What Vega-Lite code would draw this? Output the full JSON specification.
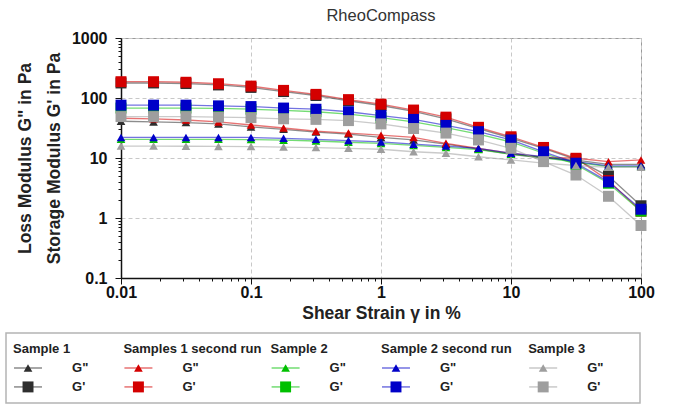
{
  "$schema": "https://vega.github.io/schema/vega-lite/v6.json",
  "background": "white",
  "padding": {"left": 5, "top": 7, "right": 0, "bottom": 0},
  "config": {
    "font": "Liberation Sans",
    "view": {"stroke": null}
  },
  "spacing": 10,
  "resolve": {"scale": {"x": "independent", "y": "independent"}},
  "datasets": {
    "rheo": [
      {"sample": "Sample 1", "modulus": "G\"", "strain": 0.01, "value": 41},
      {"sample": "Sample 1", "modulus": "G\"", "strain": 0.0178, "value": 40},
      {"sample": "Sample 1", "modulus": "G\"", "strain": 0.0316, "value": 39},
      {"sample": "Sample 1", "modulus": "G\"", "strain": 0.0562, "value": 37},
      {"sample": "Sample 1", "modulus": "G\"", "strain": 0.1, "value": 33},
      {"sample": "Sample 1", "modulus": "G\"", "strain": 0.178, "value": 30},
      {"sample": "Sample 1", "modulus": "G\"", "strain": 0.316, "value": 27},
      {"sample": "Sample 1", "modulus": "G\"", "strain": 0.562, "value": 25},
      {"sample": "Sample 1", "modulus": "G\"", "strain": 1, "value": 22},
      {"sample": "Sample 1", "modulus": "G\"", "strain": 1.78, "value": 20},
      {"sample": "Sample 1", "modulus": "G\"", "strain": 3.16, "value": 17},
      {"sample": "Sample 1", "modulus": "G\"", "strain": 5.62, "value": 14},
      {"sample": "Sample 1", "modulus": "G\"", "strain": 10, "value": 11.5},
      {"sample": "Sample 1", "modulus": "G\"", "strain": 17.8, "value": 10},
      {"sample": "Sample 1", "modulus": "G\"", "strain": 31.6, "value": 9.2},
      {"sample": "Sample 1", "modulus": "G\"", "strain": 56.2, "value": 7.8},
      {"sample": "Sample 1", "modulus": "G\"", "strain": 100, "value": 7.8},
      {"sample": "Sample 1", "modulus": "G'", "strain": 0.01, "value": 178},
      {"sample": "Sample 1", "modulus": "G'", "strain": 0.0178, "value": 178},
      {"sample": "Sample 1", "modulus": "G'", "strain": 0.0316, "value": 174},
      {"sample": "Sample 1", "modulus": "G'", "strain": 0.0562, "value": 165},
      {"sample": "Sample 1", "modulus": "G'", "strain": 0.1, "value": 150},
      {"sample": "Sample 1", "modulus": "G'", "strain": 0.178, "value": 128},
      {"sample": "Sample 1", "modulus": "G'", "strain": 0.316, "value": 110},
      {"sample": "Sample 1", "modulus": "G'", "strain": 0.562, "value": 90},
      {"sample": "Sample 1", "modulus": "G'", "strain": 1, "value": 75},
      {"sample": "Sample 1", "modulus": "G'", "strain": 1.78, "value": 60},
      {"sample": "Sample 1", "modulus": "G'", "strain": 3.16, "value": 45},
      {"sample": "Sample 1", "modulus": "G'", "strain": 5.62, "value": 31},
      {"sample": "Sample 1", "modulus": "G'", "strain": 10, "value": 21.5},
      {"sample": "Sample 1", "modulus": "G'", "strain": 17.8, "value": 14.5},
      {"sample": "Sample 1", "modulus": "G'", "strain": 31.6, "value": 9.5},
      {"sample": "Sample 1", "modulus": "G'", "strain": 56.2, "value": 5.0},
      {"sample": "Sample 1", "modulus": "G'", "strain": 100, "value": 1.6},
      {"sample": "Samples 1 second run", "modulus": "G\"", "strain": 0.01, "value": 46},
      {"sample": "Samples 1 second run", "modulus": "G\"", "strain": 0.0178, "value": 45},
      {"sample": "Samples 1 second run", "modulus": "G\"", "strain": 0.0316, "value": 43},
      {"sample": "Samples 1 second run", "modulus": "G\"", "strain": 0.0562, "value": 40},
      {"sample": "Samples 1 second run", "modulus": "G\"", "strain": 0.1, "value": 35.5},
      {"sample": "Samples 1 second run", "modulus": "G\"", "strain": 0.178, "value": 31.6},
      {"sample": "Samples 1 second run", "modulus": "G\"", "strain": 0.316, "value": 28},
      {"sample": "Samples 1 second run", "modulus": "G\"", "strain": 0.562, "value": 26},
      {"sample": "Samples 1 second run", "modulus": "G\"", "strain": 1, "value": 24},
      {"sample": "Samples 1 second run", "modulus": "G\"", "strain": 1.78, "value": 22},
      {"sample": "Samples 1 second run", "modulus": "G\"", "strain": 3.16, "value": 17.6},
      {"sample": "Samples 1 second run", "modulus": "G\"", "strain": 5.62, "value": 14.5},
      {"sample": "Samples 1 second run", "modulus": "G\"", "strain": 10, "value": 12},
      {"sample": "Samples 1 second run", "modulus": "G\"", "strain": 17.8, "value": 10.3},
      {"sample": "Samples 1 second run", "modulus": "G\"", "strain": 31.6, "value": 9.9},
      {"sample": "Samples 1 second run", "modulus": "G\"", "strain": 56.2, "value": 8.7},
      {"sample": "Samples 1 second run", "modulus": "G\"", "strain": 100, "value": 9.3},
      {"sample": "Samples 1 second run", "modulus": "G'", "strain": 0.01, "value": 187},
      {"sample": "Samples 1 second run", "modulus": "G'", "strain": 0.0178, "value": 187},
      {"sample": "Samples 1 second run", "modulus": "G'", "strain": 0.0316, "value": 183},
      {"sample": "Samples 1 second run", "modulus": "G'", "strain": 0.0562, "value": 173},
      {"sample": "Samples 1 second run", "modulus": "G'", "strain": 0.1, "value": 158},
      {"sample": "Samples 1 second run", "modulus": "G'", "strain": 0.178, "value": 134},
      {"sample": "Samples 1 second run", "modulus": "G'", "strain": 0.316, "value": 115},
      {"sample": "Samples 1 second run", "modulus": "G'", "strain": 0.562, "value": 94},
      {"sample": "Samples 1 second run", "modulus": "G'", "strain": 1, "value": 79},
      {"sample": "Samples 1 second run", "modulus": "G'", "strain": 1.78, "value": 63},
      {"sample": "Samples 1 second run", "modulus": "G'", "strain": 3.16, "value": 48},
      {"sample": "Samples 1 second run", "modulus": "G'", "strain": 5.62, "value": 32.5},
      {"sample": "Samples 1 second run", "modulus": "G'", "strain": 10, "value": 22.6},
      {"sample": "Samples 1 second run", "modulus": "G'", "strain": 17.8, "value": 15},
      {"sample": "Samples 1 second run", "modulus": "G'", "strain": 31.6, "value": 9.9},
      {"sample": "Samples 1 second run", "modulus": "G'", "strain": 56.2, "value": 4.2},
      {"sample": "Samples 1 second run", "modulus": "G'", "strain": 100, "value": 1.3},
      {"sample": "Sample 2", "modulus": "G\"", "strain": 0.01, "value": 20.5},
      {"sample": "Sample 2", "modulus": "G\"", "strain": 0.0178, "value": 20.5},
      {"sample": "Sample 2", "modulus": "G\"", "strain": 0.0316, "value": 20.5},
      {"sample": "Sample 2", "modulus": "G\"", "strain": 0.0562, "value": 20.5},
      {"sample": "Sample 2", "modulus": "G\"", "strain": 0.1, "value": 20.3},
      {"sample": "Sample 2", "modulus": "G\"", "strain": 0.178, "value": 19.8},
      {"sample": "Sample 2", "modulus": "G\"", "strain": 0.316, "value": 19.2},
      {"sample": "Sample 2", "modulus": "G\"", "strain": 0.562, "value": 18.3},
      {"sample": "Sample 2", "modulus": "G\"", "strain": 1, "value": 17.5},
      {"sample": "Sample 2", "modulus": "G\"", "strain": 1.78, "value": 16.2},
      {"sample": "Sample 2", "modulus": "G\"", "strain": 3.16, "value": 15},
      {"sample": "Sample 2", "modulus": "G\"", "strain": 5.62, "value": 13.8},
      {"sample": "Sample 2", "modulus": "G\"", "strain": 10, "value": 11.6},
      {"sample": "Sample 2", "modulus": "G\"", "strain": 17.8, "value": 10.2},
      {"sample": "Sample 2", "modulus": "G\"", "strain": 31.6, "value": 8.5},
      {"sample": "Sample 2", "modulus": "G\"", "strain": 56.2, "value": 7.2},
      {"sample": "Sample 2", "modulus": "G\"", "strain": 100, "value": 7.2},
      {"sample": "Sample 2", "modulus": "G'", "strain": 0.01, "value": 68},
      {"sample": "Sample 2", "modulus": "G'", "strain": 0.0178, "value": 68},
      {"sample": "Sample 2", "modulus": "G'", "strain": 0.0316, "value": 68},
      {"sample": "Sample 2", "modulus": "G'", "strain": 0.0562, "value": 67},
      {"sample": "Sample 2", "modulus": "G'", "strain": 0.1, "value": 65},
      {"sample": "Sample 2", "modulus": "G'", "strain": 0.178, "value": 62},
      {"sample": "Sample 2", "modulus": "G'", "strain": 0.316, "value": 59},
      {"sample": "Sample 2", "modulus": "G'", "strain": 0.562, "value": 54},
      {"sample": "Sample 2", "modulus": "G'", "strain": 1, "value": 47},
      {"sample": "Sample 2", "modulus": "G'", "strain": 1.78, "value": 40},
      {"sample": "Sample 2", "modulus": "G'", "strain": 3.16, "value": 32},
      {"sample": "Sample 2", "modulus": "G'", "strain": 5.62, "value": 25},
      {"sample": "Sample 2", "modulus": "G'", "strain": 10, "value": 18.5},
      {"sample": "Sample 2", "modulus": "G'", "strain": 17.8, "value": 12},
      {"sample": "Sample 2", "modulus": "G'", "strain": 31.6, "value": 7.8},
      {"sample": "Sample 2", "modulus": "G'", "strain": 56.2, "value": 3.8},
      {"sample": "Sample 2", "modulus": "G'", "strain": 100, "value": 1.3},
      {"sample": "Sample 2 second run", "modulus": "G\"", "strain": 0.01, "value": 22},
      {"sample": "Sample 2 second run", "modulus": "G\"", "strain": 0.0178, "value": 22},
      {"sample": "Sample 2 second run", "modulus": "G\"", "strain": 0.0316, "value": 22},
      {"sample": "Sample 2 second run", "modulus": "G\"", "strain": 0.0562, "value": 22},
      {"sample": "Sample 2 second run", "modulus": "G\"", "strain": 0.1, "value": 22},
      {"sample": "Sample 2 second run", "modulus": "G\"", "strain": 0.178, "value": 21.3},
      {"sample": "Sample 2 second run", "modulus": "G\"", "strain": 0.316, "value": 20.5},
      {"sample": "Sample 2 second run", "modulus": "G\"", "strain": 0.562, "value": 19.5},
      {"sample": "Sample 2 second run", "modulus": "G\"", "strain": 1, "value": 18.5},
      {"sample": "Sample 2 second run", "modulus": "G\"", "strain": 1.78, "value": 17},
      {"sample": "Sample 2 second run", "modulus": "G\"", "strain": 3.16, "value": 15.8},
      {"sample": "Sample 2 second run", "modulus": "G\"", "strain": 5.62, "value": 14.5},
      {"sample": "Sample 2 second run", "modulus": "G\"", "strain": 10, "value": 12},
      {"sample": "Sample 2 second run", "modulus": "G\"", "strain": 17.8, "value": 10.5},
      {"sample": "Sample 2 second run", "modulus": "G\"", "strain": 31.6, "value": 8.7},
      {"sample": "Sample 2 second run", "modulus": "G\"", "strain": 56.2, "value": 7.4},
      {"sample": "Sample 2 second run", "modulus": "G\"", "strain": 100, "value": 7.4},
      {"sample": "Sample 2 second run", "modulus": "G'", "strain": 0.01, "value": 76},
      {"sample": "Sample 2 second run", "modulus": "G'", "strain": 0.0178, "value": 76},
      {"sample": "Sample 2 second run", "modulus": "G'", "strain": 0.0316, "value": 76},
      {"sample": "Sample 2 second run", "modulus": "G'", "strain": 0.0562, "value": 74},
      {"sample": "Sample 2 second run", "modulus": "G'", "strain": 0.1, "value": 72},
      {"sample": "Sample 2 second run", "modulus": "G'", "strain": 0.178, "value": 68},
      {"sample": "Sample 2 second run", "modulus": "G'", "strain": 0.316, "value": 65},
      {"sample": "Sample 2 second run", "modulus": "G'", "strain": 0.562, "value": 59},
      {"sample": "Sample 2 second run", "modulus": "G'", "strain": 1, "value": 51},
      {"sample": "Sample 2 second run", "modulus": "G'", "strain": 1.78, "value": 44},
      {"sample": "Sample 2 second run", "modulus": "G'", "strain": 3.16, "value": 35},
      {"sample": "Sample 2 second run", "modulus": "G'", "strain": 5.62, "value": 27.5},
      {"sample": "Sample 2 second run", "modulus": "G'", "strain": 10, "value": 20},
      {"sample": "Sample 2 second run", "modulus": "G'", "strain": 17.8, "value": 12.7},
      {"sample": "Sample 2 second run", "modulus": "G'", "strain": 31.6, "value": 8.2},
      {"sample": "Sample 2 second run", "modulus": "G'", "strain": 56.2, "value": 4.0},
      {"sample": "Sample 2 second run", "modulus": "G'", "strain": 100, "value": 1.4},
      {"sample": "Sample 3", "modulus": "G\"", "strain": 0.01, "value": 15.8},
      {"sample": "Sample 3", "modulus": "G\"", "strain": 0.0178, "value": 15.8},
      {"sample": "Sample 3", "modulus": "G\"", "strain": 0.0316, "value": 15.7},
      {"sample": "Sample 3", "modulus": "G\"", "strain": 0.0562, "value": 15.6},
      {"sample": "Sample 3", "modulus": "G\"", "strain": 0.1, "value": 15.5},
      {"sample": "Sample 3", "modulus": "G\"", "strain": 0.178, "value": 15.2},
      {"sample": "Sample 3", "modulus": "G\"", "strain": 0.316, "value": 14.9},
      {"sample": "Sample 3", "modulus": "G\"", "strain": 0.562, "value": 14.5},
      {"sample": "Sample 3", "modulus": "G\"", "strain": 1, "value": 14},
      {"sample": "Sample 3", "modulus": "G\"", "strain": 1.78, "value": 12.7},
      {"sample": "Sample 3", "modulus": "G\"", "strain": 3.16, "value": 12},
      {"sample": "Sample 3", "modulus": "G\"", "strain": 5.62, "value": 10.5},
      {"sample": "Sample 3", "modulus": "G\"", "strain": 10, "value": 9.3},
      {"sample": "Sample 3", "modulus": "G\"", "strain": 17.8, "value": 8.2},
      {"sample": "Sample 3", "modulus": "G\"", "strain": 31.6, "value": 7.5},
      {"sample": "Sample 3", "modulus": "G\"", "strain": 56.2, "value": 7.0},
      {"sample": "Sample 3", "modulus": "G\"", "strain": 100, "value": 7.0},
      {"sample": "Sample 3", "modulus": "G'", "strain": 0.01, "value": 49},
      {"sample": "Sample 3", "modulus": "G'", "strain": 0.0178, "value": 49},
      {"sample": "Sample 3", "modulus": "G'", "strain": 0.0316, "value": 49},
      {"sample": "Sample 3", "modulus": "G'", "strain": 0.0562, "value": 48},
      {"sample": "Sample 3", "modulus": "G'", "strain": 0.1, "value": 47},
      {"sample": "Sample 3", "modulus": "G'", "strain": 0.178, "value": 45},
      {"sample": "Sample 3", "modulus": "G'", "strain": 0.316, "value": 44},
      {"sample": "Sample 3", "modulus": "G'", "strain": 0.562, "value": 42},
      {"sample": "Sample 3", "modulus": "G'", "strain": 1, "value": 37},
      {"sample": "Sample 3", "modulus": "G'", "strain": 1.78, "value": 31},
      {"sample": "Sample 3", "modulus": "G'", "strain": 3.16, "value": 26},
      {"sample": "Sample 3", "modulus": "G'", "strain": 5.62, "value": 20},
      {"sample": "Sample 3", "modulus": "G'", "strain": 10, "value": 14.5},
      {"sample": "Sample 3", "modulus": "G'", "strain": 17.8, "value": 8.7},
      {"sample": "Sample 3", "modulus": "G'", "strain": 31.6, "value": 5.2},
      {"sample": "Sample 3", "modulus": "G'", "strain": 56.2, "value": 2.3},
      {"sample": "Sample 3", "modulus": "G'", "strain": 100, "value": 0.75}
    ]
  },
  "vconcat": [
    {
      "spacing": 8,
      "hconcat": [
        {
          "width": 1,
          "height": 240,
          "data": {"values": []},
          "mark": "point"
        },
        {
          "title": {"text": "RheoCompass", "fontSize": 16.5, "fontWeight": "normal", "color": "#333333", "frame": "group", "anchor": "middle", "offset": 6},
          "width": 520,
          "height": 240,
          "view": {"stroke": "#9a9a9a", "strokeWidth": 1},
          "data": {"name": "rheo"},
          "encoding": {
            "x": {
              "field": "strain", "type": "quantitative",
              "scale": {"type": "log", "domain": [0.01, 100], "nice": false},
              "axis": {
                "title": "Shear Strain γ in %",
                "values": [0.01, 0.02, 0.03, 0.04, 0.05, 0.06, 0.07, 0.08, 0.09, 0.1, 0.2, 0.3, 0.4, 0.5, 0.6, 0.7, 0.8, 0.9, 1, 2, 3, 4, 5, 6, 7, 8, 9, 10, 20, 30, 40, 50, 60, 70, 80, 90, 100],
                "format": "~g",
                "labelExpr": "abs(log(datum.value)/LN10 - round(log(datum.value)/LN10)) < 1e-6 ? datum.label : ''",
                "labelFlush": false,
                "labelFontSize": 16, "labelFontWeight": "bold", "labelColor": "#111111", "labelPadding": 0,
                "titleFontSize": 17.5, "titleFontWeight": "bold", "titleColor": "#222222", "titlePadding": 4,
                "domainColor": "#111111", "domainWidth": 1.5, "tickColor": "#111111",
                "tickSize": {"condition": {"test": "abs(log(datum.value)/LN10 - round(log(datum.value)/LN10)) < 1e-6", "value": 6}, "value": 3},
                "grid": true, "gridColor": "#c8c8c8", "gridDash": [4, 3],
                "gridOpacity": {"condition": {"test": "abs(log(datum.value)/LN10 - round(log(datum.value)/LN10)) < 1e-6", "value": 1}, "value": 0}
              }
            },
            "y": {
              "field": "value", "type": "quantitative",
              "scale": {"type": "log", "domain": [0.1, 1000], "nice": false},
              "axis": {
                "title": ["Loss Modulus G\" in Pa", "Storage Modulus G' in Pa"],
                "values": [0.1, 0.2, 0.3, 0.4, 0.5, 0.6, 0.7, 0.8, 0.9, 1, 2, 3, 4, 5, 6, 7, 8, 9, 10, 20, 30, 40, 50, 60, 70, 80, 90, 100, 200, 300, 400, 500, 600, 700, 800, 900, 1000],
                "format": "~g",
                "labelExpr": "abs(log(datum.value)/LN10 - round(log(datum.value)/LN10)) < 1e-6 ? datum.label : ''",
                "labelFlush": false,
                "labelFontSize": 16, "labelFontWeight": "bold", "labelColor": "#111111", "labelPadding": 8,
                "titleFontSize": 17.5, "titleFontWeight": "bold", "titleColor": "#222222", "titleLineHeight": 29, "titlePadding": 8,
                "domainColor": "#111111", "domainWidth": 1.5, "tickColor": "#111111",
                "tickSize": {"condition": {"test": "abs(log(datum.value)/LN10 - round(log(datum.value)/LN10)) < 1e-6", "value": 6}, "value": 3},
                "grid": true, "gridColor": "#c8c8c8", "gridDash": [4, 3],
                "gridOpacity": {"condition": {"test": "abs(log(datum.value)/LN10 - round(log(datum.value)/LN10)) < 1e-6", "value": 1}, "value": 0}
              }
            },
            "color": {
              "field": "sample", "type": "nominal", "legend": null,
              "scale": {"domain": ["Sample 1", "Samples 1 second run", "Sample 2", "Sample 2 second run", "Sample 3"], "range": ["#2e2e2e", "#d40000", "#00c000", "#0000c8", "#9e9e9e"]}
            }
          },
          "layer": [
            {
              "mark": {"type": "line", "strokeWidth": 1.3, "opacity": 0.55},
              "encoding": {"detail": {"field": "modulus", "type": "nominal"}}
            },
            {
              "mark": {"type": "point", "filled": true, "opacity": 1},
              "encoding": {
                "shape": {"field": "modulus", "type": "nominal", "legend": null, "scale": {"domain": ["G\"", "G'"], "range": ["triangle-up", "square"]}},
                "size": {"field": "modulus", "type": "nominal", "legend": null, "scale": {"domain": ["G\"", "G'"], "range": [75, 120]}}
              }
            }
          ]
        }
      ]
    },
    {
      "width": 634,
      "height": 70,
      "view": {"stroke": "#b4b4b4", "strokeWidth": 1.5},
      "data": {"name": "rheo"},
      "transform": [{"aggregate": [{"op": "count", "as": "n"}], "groupby": ["sample", "modulus"]}],
      "encoding": {
        "x": {
          "field": "sample", "type": "nominal", "axis": null,
          "scale": {"type": "point", "domain": ["Sample 1", "gap1", "gap2", "Samples 1 second run", "gap3", "gap4", "gap5", "Sample 2", "gap6", "gap7", "Sample 2 second run", "gap8", "gap9", "gap10", "Sample 3", "gap11", "gap12", "gap13"], "padding": 0.115, "align": 0.83}
        },
        "y": {
          "field": "modulus", "type": "nominal", "axis": null,
          "scale": {"type": "point", "domain": ["header", "G\"", "G'"], "padding": 0.85}
        },
        "color": {
          "field": "sample", "type": "nominal", "legend": null,
          "scale": {"domain": ["Sample 1", "Samples 1 second run", "Sample 2", "Sample 2 second run", "Sample 3"], "range": ["#2e2e2e", "#d40000", "#00c000", "#0000c8", "#9e9e9e"]}
        }
      },
      "layer": [
        {
          "mark": {"type": "point", "shape": "stroke", "size": 784, "strokeWidth": 1.5, "opacity": 0.55, "xOffset": 15}
        },
        {
          "mark": {"type": "point", "filled": true, "opacity": 1, "xOffset": 15},
          "encoding": {
            "shape": {"field": "modulus", "type": "nominal", "legend": null, "scale": {"domain": ["G\"", "G'"], "range": ["triangle-up", "square"]}},
            "size": {"field": "modulus", "type": "nominal", "legend": null, "scale": {"domain": ["G\"", "G'"], "range": [75, 120]}}
          }
        },
        {
          "mark": {"type": "text", "align": "left", "baseline": "middle", "dx": 59, "fontSize": 13, "fontWeight": "bold"},
          "encoding": {"text": {"field": "modulus"}, "color": {"value": "#222222"}}
        },
        {
          "transform": [{"filter": {"field": "modulus", "equal": "G\""}}],
          "mark": {"type": "text", "align": "left", "baseline": "middle", "fontSize": 13, "fontWeight": "bold"},
          "encoding": {"text": {"field": "sample"}, "y": {"datum": "header", "type": "nominal"}, "color": {"value": "#222222"}}
        }
      ]
    }
  ]
}
